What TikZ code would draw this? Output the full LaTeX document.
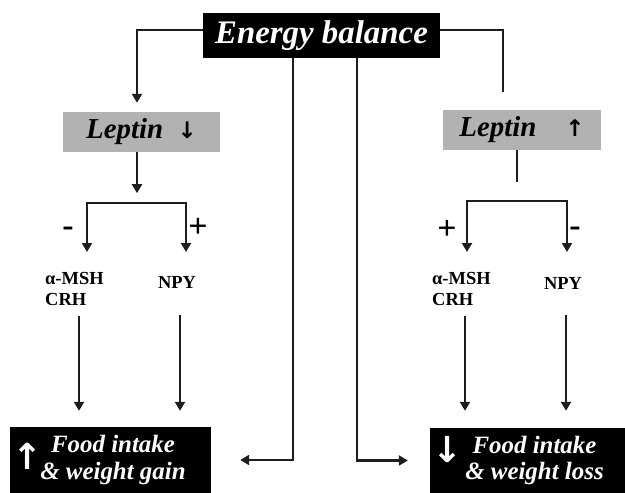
\documentclass[tikz,border=0pt]{standalone}
\usepackage{fontspec}
\setmainfont{Liberation Serif}
\newfontfamily\arrowfont{DejaVu Sans}
\usetikzlibrary{arrows.meta, positioning}
\definecolor{leptgray}{RGB}{178,178,178}
\definecolor{linegray}{RGB}{30,30,30}
\tikzset{
  arr/.style    = {-{Triangle[length=9bp,width=10bp]}, line width=2.5bp, color=linegray},
  dbl/.style    = {{Triangle[length=9bp,width=10bp]}-{Triangle[length=9bp,width=10bp]},
                   line width=2.5bp, color=linegray},
  ln/.style     = {line width=2.5bp, color=linegray},
  blackbox/.style = {fill=black, text=white, inner sep=0pt, align=center},
  graybox/.style  = {fill=leptgray, inner sep=0pt,
                     font=\bfseries\itshape\fontsize{29}{32}\selectfont,
                     minimum width=157bp, minimum height=40bp},
  hormone/.style  = {inner sep=0pt, font=\bfseries\fontsize{18.5}{21}\selectfont},
  sign/.style     = {inner sep=0pt, font=\bfseries\fontsize{34}{34}\selectfont},
  bigarrow/.style = {inner sep=0pt, text=white, font=\arrowfont\bfseries\fontsize{36}{36}\selectfont},
}
\newcommand{\leparrow}[1]{{\arrowfont\bfseries\fontsize{23}{23}\selectfont #1}}

\begin{document}
\begin{tikzpicture}[x=1bp, y=-1bp]
\useasboundingbox (0,0) rectangle (625,493);

% top box
\node[blackbox, minimum width=237bp, minimum height=45bp,
      font=\bfseries\itshape\fontsize{33}{36}\selectfont] (eb) at (321.5,35.5) {Energy balance};

% leptin boxes
\node[graybox] (lepL) at (141.5,132) {Leptin\enspace\leparrow{↓}};
\node[graybox, minimum width=158bp] (lepR) at (522,130) {Leptin\quad\leparrow{↑}};

% hormones
\node[hormone, align=left, anchor=west] (mshL) at (45,289) {α-MSH\\CRH};
\node[hormone] (npyL) at (177,282) {NPY};
\node[hormone, align=left, anchor=west] (mshR) at (432,289) {α-MSH\\CRH};
\node[hormone] (npyR) at (563,283) {NPY};

% signs
\node[sign] (minL) at (68,232) {-};
\node[sign] (plusL) at (198,228) {+};
\node[sign] (plusR) at (447,230) {+};
\node[sign] (minR) at (575,232) {-};

% result boxes
\node[blackbox, minimum width=201bp, minimum height=66bp,
      font=\bfseries\itshape\fontsize{25}{27}\selectfont] (foodL) at (110.5,460) {\hspace*{5bp}Food intake\\\hspace*{5bp}\& weight gain};
\node[blackbox, minimum width=195bp, minimum height=65bp,
      font=\bfseries\itshape\fontsize{25}{27}\selectfont] (foodR) at (527.5,460.5) {\hspace*{14bp}Food intake\\\hspace*{14bp}\& weight loss};
\node[bigarrow] (upL) at (28,456) {↑};
\node[bigarrow] (downR) at (448,449) {↓};

% connectors
\coordinate (topL) at (137,30);
\coordinate (topR) at (503,92);
\coordinate (stemR) at (517,182);
\draw[arr, shorten >=9bp] ([yshift=5.5bp]eb.west) -| (lepL.north -| topL);
\draw[ln] ([yshift=5.5bp]eb.east) -| (topR);
\draw[arr] (lepL.south -| topL) -- ++(0,41);
\draw[ln] (lepR.south -| stemR) -- (stemR);

\coordinate (tipL1) at (87,252);
\coordinate (tipL2) at (186,252);
\coordinate (tipR1) at (467,252);
\coordinate (tipR2) at (567,252);
\draw[dbl] (tipL1) -- ++(0,-49) -| (tipL2);
\draw[dbl] (tipR1) -- ++(0,-51) -| (tipR2);

\draw[arr, shorten <=10bp, shorten >=16bp] (mshL.south -| 79,0) -- (foodL.north -| 79,0);
\draw[arr, shorten <=27bp, shorten >=16bp] (npyL.south -| 180,0) -- (foodL.north -| 180,0);
\draw[arr, shorten <=10bp, shorten >=17bp] (mshR.south -| 465,0) -- (foodR.north -| 465,0);
\draw[arr, shorten <=26bp, shorten >=17bp] (npyR.south -| 566,0) -- (foodR.north -| 566,0);

\draw[arr, shorten >=29bp] ([xshift=-28.5bp]eb.south) |- (foodL.east);
\draw[arr, shorten >=22bp] ([xshift=35.5bp]eb.south) |- (foodR.west);
\end{tikzpicture}
\end{document}
